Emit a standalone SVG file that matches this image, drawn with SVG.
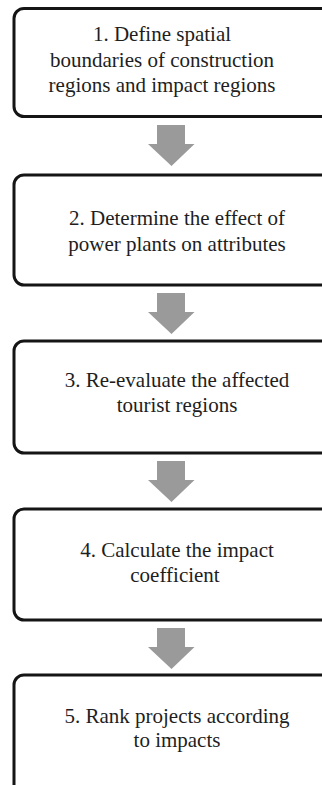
<svg xmlns="http://www.w3.org/2000/svg" width="322" height="785" viewBox="0 0 322 785">
<style>
.box{fill:#ffffff;stroke:#151515;stroke-width:3}
.lbl{font-family:"Liberation Serif","Times New Roman",serif;font-size:21px;fill:#1e1e1e;text-anchor:middle}
.arr{fill:#9a9a9a}
</style>
<defs>
<path id="bigarrow" d="M-14.5,0 H13.5 V19 H23 L0,41 L-23.5,19 H-14.5 Z"/>
</defs>
<rect x="0" y="0" width="322" height="785" fill="#ffffff"/>
<g id="node1">
<rect class="box" x="14" y="8.5" width="320" height="108" rx="10"/>
<text class="lbl" x="162" y="41">1. Define spatial</text>
<text class="lbl" x="162" y="66.5">boundaries of construction</text>
<text class="lbl" x="162" y="92">regions and impact regions</text>
</g>
<g id="node2">
<rect class="box" x="14" y="175" width="320" height="110" rx="10"/>
<text class="lbl" x="177" y="225">2. Determine the effect of</text>
<text class="lbl" x="177" y="251">power plants on attributes</text>
</g>
<g id="node3">
<rect class="box" x="14" y="341" width="320" height="112" rx="10"/>
<text class="lbl" x="177" y="387">3. Re-evaluate the affected</text>
<text class="lbl" x="177" y="412">tourist regions</text>
</g>
<g id="node4">
<rect class="box" x="14" y="509" width="320" height="111" rx="10"/>
<text class="lbl" x="177" y="557">4. Calculate the impact</text>
<text class="lbl" x="175" y="582">coefficient</text>
</g>
<g id="node5">
<rect class="box" x="14" y="675" width="320" height="130" rx="10"/>
<text class="lbl" x="177" y="723">5. Rank projects according</text>
<text class="lbl" x="177" y="747">to impacts</text>
</g>
<g id="connectors">
<use class="arr" href="#bigarrow" x="171.5" y="125"/>
<use class="arr" href="#bigarrow" x="171.5" y="293"/>
<use class="arr" href="#bigarrow" x="171.5" y="461"/>
<use class="arr" href="#bigarrow" x="171.5" y="628"/>
</g>
</svg>
